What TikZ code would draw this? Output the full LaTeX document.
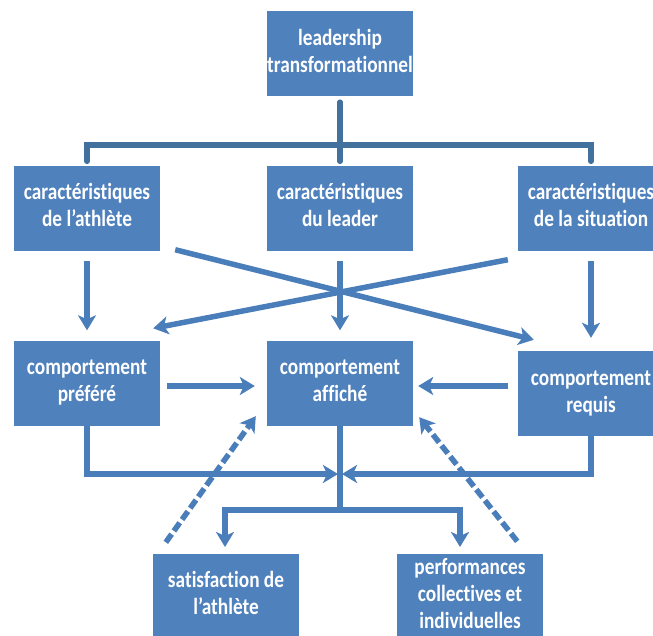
\documentclass[tikz,border=0pt]{standalone}
\usepackage{fontspec}
\setmainfont[Ligatures={NoCommon}]{Carlito}
\usetikzlibrary{arrows.meta}
\definecolor{boxblue}{HTML}{4F81BD}
\definecolor{linkblue}{HTML}{4A7EBB}
\definecolor{brackblue}{HTML}{41719C}
% box labels: bold, slightly stretched vertically
\newcommand{\boxtext}[1]{\scalebox{1}[1.2]{\begin{tabular}{@{}c@{}}#1\end{tabular}}}
\begin{document}
\begin{tikzpicture}[x=1pt,y=-1pt,
  box/.style={fill=boxblue, draw=none, minimum width=146pt, minimum height=85pt,
    inner sep=0pt, align=center, text=white,
    font=\fontsize{19.3}{22.5}\selectfont\bfseries},
  link/.style={draw=linkblue, line width=5.5pt,
    -{Stealth[length=15pt,width=18pt,inset=4pt]}},
  dlink/.style={link, dash pattern=on 10pt off 4pt},
  bracket/.style={draw=brackblue, line width=5.5pt, line cap=round},
  plain/.style={draw=linkblue, line width=5.5pt}]
\useasboundingbox (0,0) rectangle (653,635);
\clip (0,0) rectangle (653,635);
\fill[white] (0,0) rectangle (653,635);

% boxes
\node[box] (lead) at (340,53.5) {\boxtext{leadership\\transformationnel}};
\node[box] (ca) at (87,208) {\boxtext{caractéristiques\\de l’athlète}};
\node[box] (cl) at (340,208) {\boxtext{caractéristiques\\du leader}};
\node[box] (cs) at (591,208) {\boxtext{caractéristiques\\de la situation}};
\node[box] (pref) at (87,383) {\boxtext{comportement\\préféré}};
\node[box] (aff) at (340,383) {\boxtext{comportement\\affiché}};
\node[box] (req) at (591,393.5) {\boxtext{comportement\\requis}};
\node[box] (sat) at (226,596) {\boxtext{satisfaction de\\l’athlète}};
\node[box] (perf) at (470,596) {\boxtext{performances\\collectives et\\individuelles}};

% bracket from the top box to the three characteristics
\coordinate (bl) at (87,145);
\coordinate (br) at (591,145);
\draw[bracket] ([yshift=-6pt]lead.south) -- ([yshift=4pt]cl.north);
\draw[bracket] ([yshift=4pt]ca.north) |- (bl) -- (br) -| ([yshift=4pt]cs.north);

% characteristics to behaviours
\draw[link] ([yshift=-10pt]ca.south) -- ([yshift=10pt]pref.north);
\draw[link] ([yshift=-10pt]cl.south) -- ([yshift=10pt]aff.north);
\draw[link] ([yshift=-10pt]cs.south) -- ([yshift=13pt]req.north);
\draw[link] ([xshift=15pt,yshift=1pt]ca.south east) -- ([xshift=16pt,yshift=11pt]req.north west);
\draw[link] ([xshift=-10pt,yshift=-9pt]cs.south west) -- ([xshift=-7pt,yshift=12pt]pref.north east);

% behaviours to the displayed behaviour
\draw[link] ([xshift=7pt,yshift=-3pt]pref.east) -- ([xshift=-12pt,yshift=-3pt]aff.west);
\draw[link] ([xshift=-10pt,yshift=7.5pt]req.west) -- ([xshift=5pt,yshift=-3pt]aff.east);

% feedback from the outcomes
\draw[dlink] ([xshift=13pt,yshift=11pt]sat.north west) -- ([xshift=-11pt,yshift=9.5pt]aff.south west);
\draw[dlink] ([xshift=-26pt,yshift=12pt]perf.north east) -- ([xshift=6pt,yshift=8.5pt]aff.south east);

% junction below the displayed behaviour
\coordinate (jl) at (338,474);
\coordinate (jr) at (342,474);
\draw[link] (pref.south) |- (jl);
\draw[link] (req.south) |- (jr);
\coordinate (js) at (340,510);
\coordinate (jsl) at (225,510);
\coordinate (jsr) at (460,510);
\draw[plain] (aff.south) -- (js);
\draw[plain] ([xshift=-2.75pt]jsl) -- ([xshift=2.75pt]jsr);
\draw[link] (jsl) -- (225,547);
\draw[link] (jsr) -- (460,547);
\end{tikzpicture}
\end{document}
